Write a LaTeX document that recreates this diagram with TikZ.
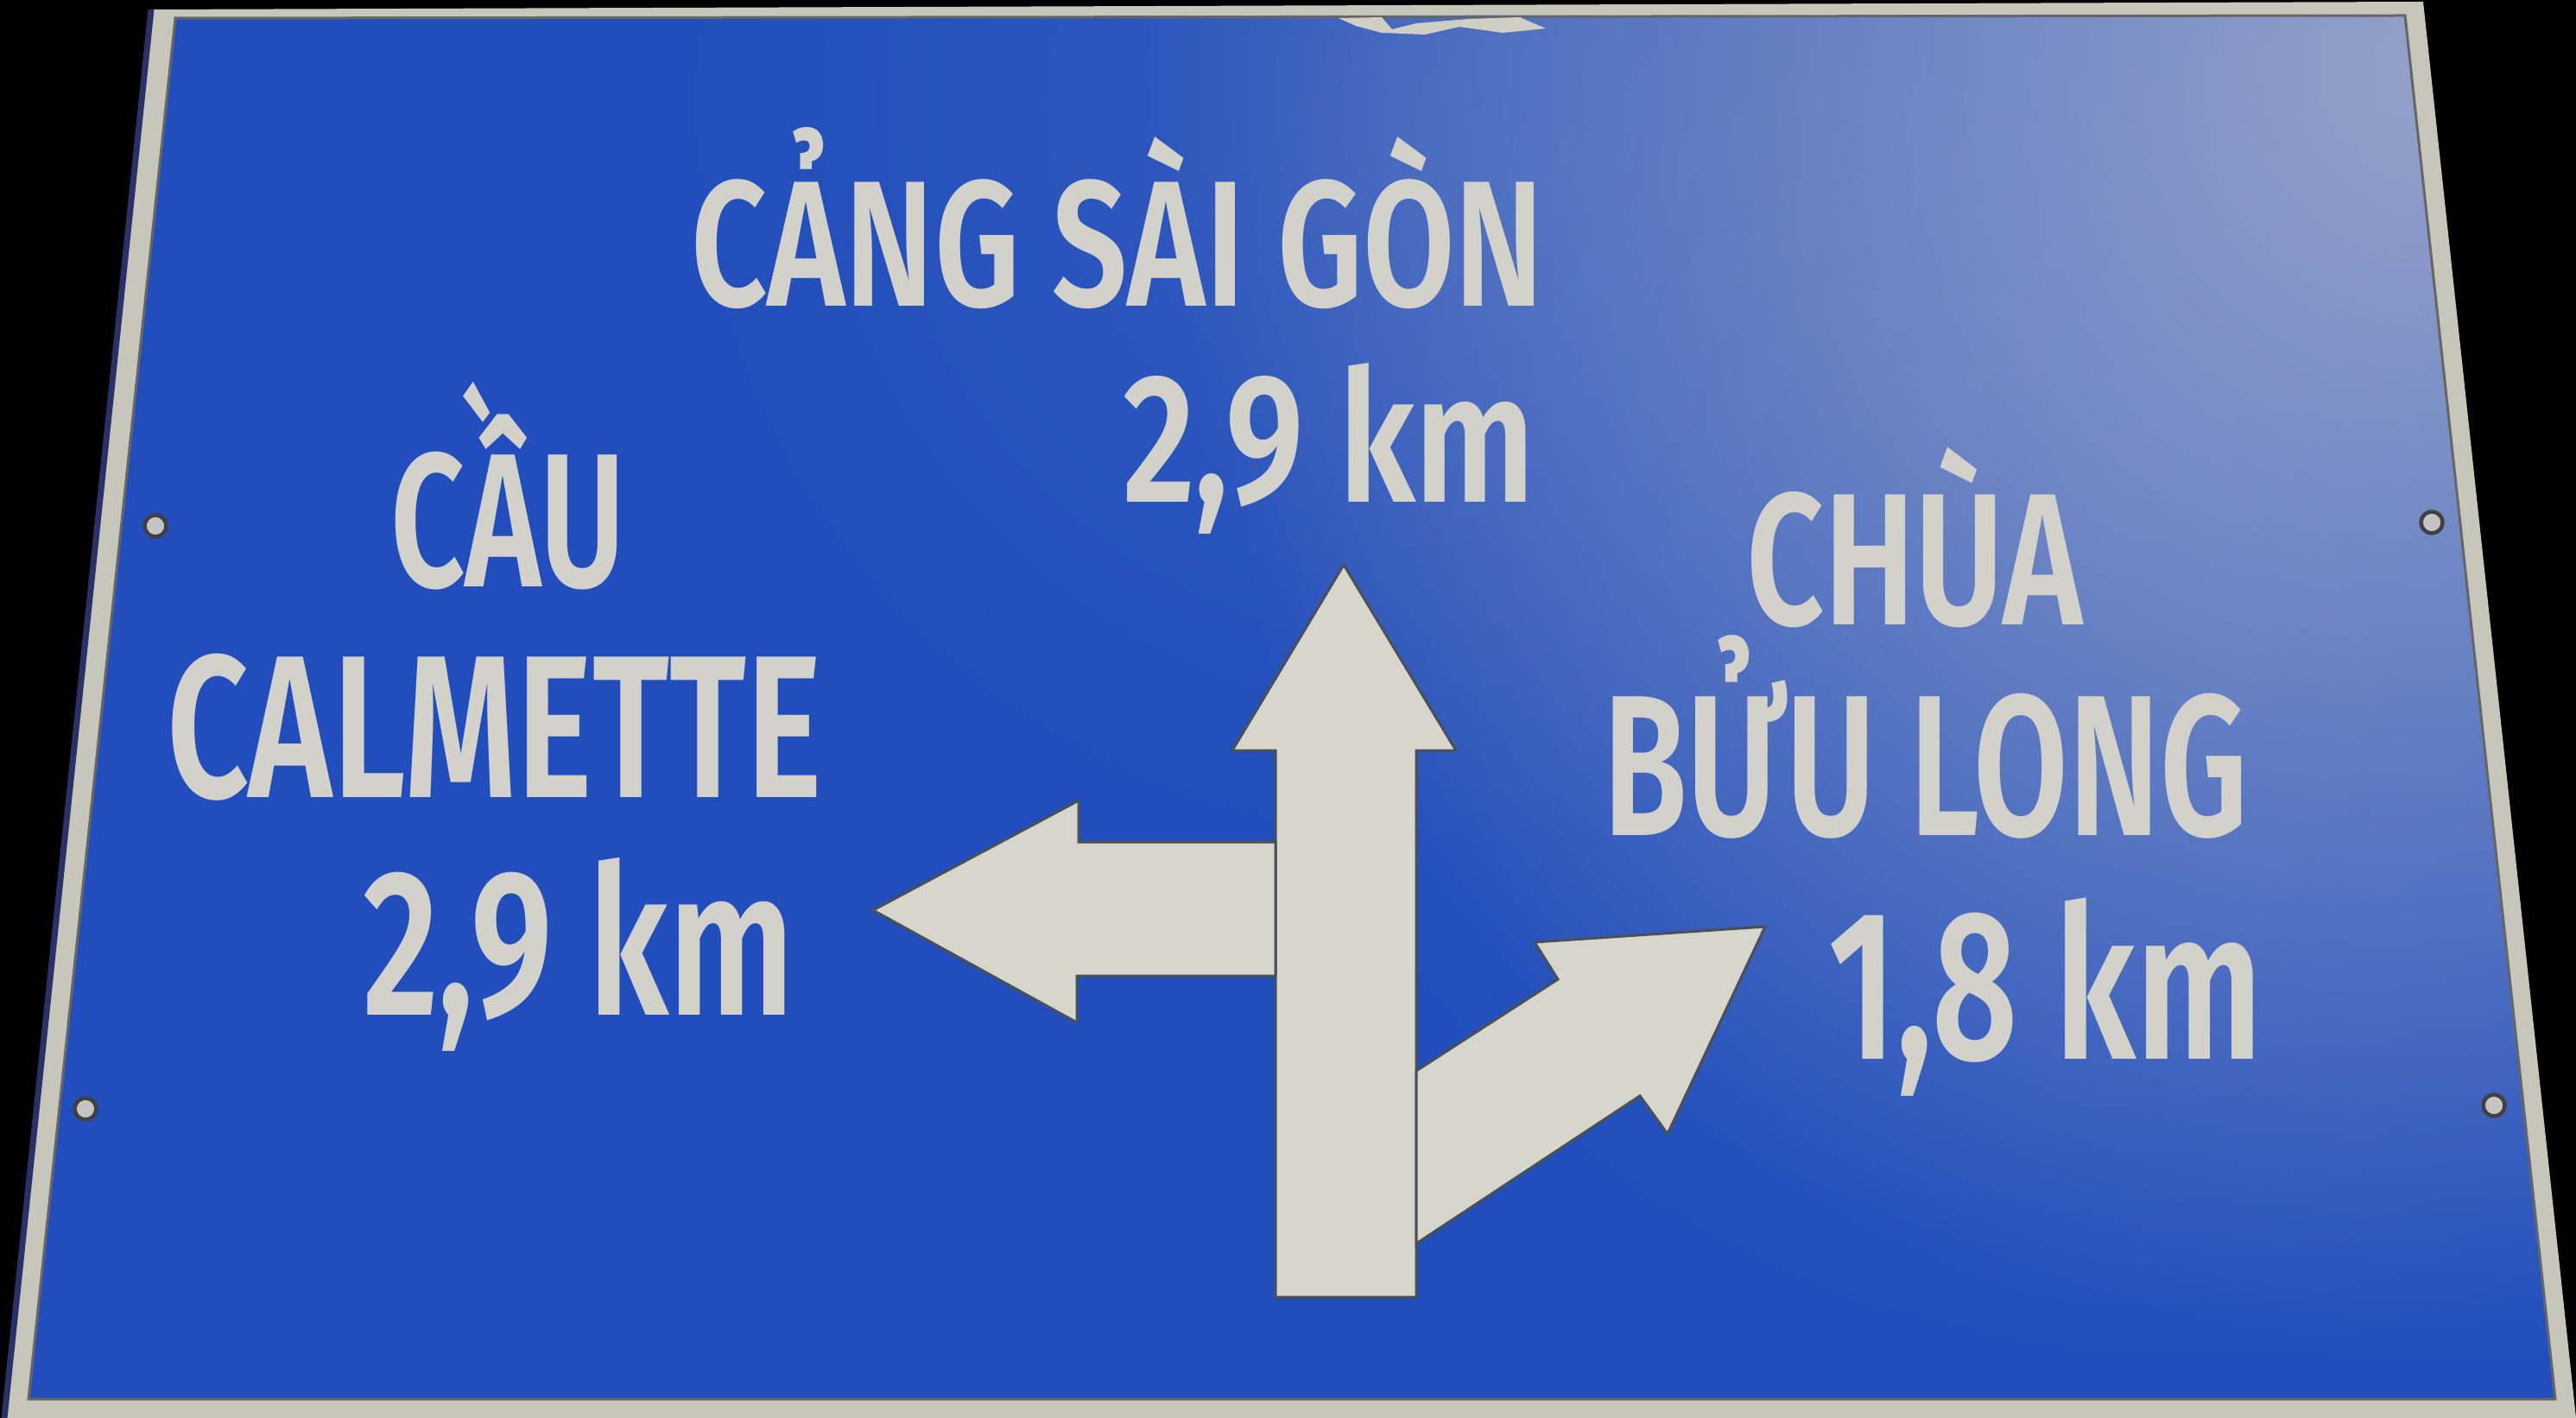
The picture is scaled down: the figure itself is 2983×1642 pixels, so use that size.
\documentclass[tikz,border=0pt]{standalone}
\usepackage{fontspec}
\usepackage{graphicx}
\usetikzlibrary{fadings}
\newfontfamily\signfont{Fira Sans}[BoldFont={Fira Sans SemiBold}]
\definecolor{signblue}{HTML}{214EBC}
\definecolor{bordergrey}{HTML}{C6C6BA}
\definecolor{edgenavy}{HTML}{2A3068}
\definecolor{glarecol}{HTML}{A0AACB}
\definecolor{lettercol}{HTML}{D2D2CA}
\definecolor{arrowfill}{HTML}{D6D6CC}
\definecolor{arrowedge}{HTML}{4A5058}
\definecolor{screwcol}{HTML}{C4C4C4}
\tikzfading[name=glarefade, inner color=transparent!0, outer color=transparent!100]
\newcommand\signline[3]{\resizebox{#1}{\height}{\fontsize{#2}{#2}\selectfont\signfont\bfseries #3}}
\tikzset{
  signtext/.style={text=lettercol, anchor=base west, inner sep=0pt, outer sep=0pt},
  arrowshape/.style={fill=arrowfill, draw=arrowedge, line width=0.3mm, line join=miter},
  screw/.style={circle, fill=screwcol, draw=black!75, line width=0.45mm, minimum size=2.5mm, inner sep=0pt}
}
\begin{document}
\begin{tikzpicture}[x=0.1mm,y=-0.1mm]
\useasboundingbox (0,0) rectangle (2983,1642);
\fill[black] (0,0) rectangle (2983,1642);
% sign plate
\coordinate (OTL) at (175,11);
\coordinate (OTR) at (2806,2);
\coordinate (OBR) at (2983,1642);
\coordinate (OBL) at (5,1642);
\coordinate (ITL) at (203,21);
\coordinate (ITR) at (2785,18);
\coordinate (IBR) at (2959,1620);
\coordinate (IBL) at (33,1620);
\fill[bordergrey] (OTL) -- (OTR) -- (OBR) -- (OBL) -- cycle;
\draw[edgenavy, line width=0.7mm] (OTL) -- (OBL);
\fill[signblue] (ITL) -- (ITR) -- (IBR) -- (IBL) -- cycle;
\begin{scope}
  \clip (ITL) -- (ITR) -- (IBR) -- (IBL) -- cycle;
  \fill[glarecol, path fading=glarefade, opacity=0.9] (2820,80) circle (150mm);
  \fill[glarecol, path fading=glarefade, opacity=0.25] (2500,500) circle (110mm);
  \fill[glarecol, path fading=glarefade, opacity=0.15] (1650,120) circle (90mm);
\end{scope}
\draw[black!60, line width=0.3mm] (ITL) -- (ITR) -- (IBR) -- (IBL) -- cycle;
% worn patch on the top edge
\fill[bordergrey!85!white] (1550,21) -- (1600,20) -- (1612,34) -- (1640,27) -- (1700,22) -- (1760,20) -- (1790,33) -- (1740,38) -- (1690,31) -- (1650,40) -- (1600,38) -- (1570,30) -- cycle;
% screws
\node[screw] (s1) at (180,609) {};
\node[screw] (s2) at (99,1284) {};
\node[screw] (s3) at (2816,605) {};
\node[screw] (s4) at (2888,1280) {};
% arrows
\path[arrowshape] (1556,654) -- (1686,869) -- (1640,869) -- (1640,1502) -- (1477,1502) -- (1477,869) -- (1427,869) -- cycle;
\path[arrowshape] (1011,1054) -- (1249,927) -- (1249,975) -- (1477,975) -- (1477,1130) -- (1247,1130) -- (1247,1184) -- cycle;
\path[arrowshape] (1640,1240) -- (1804,1134) -- (1777,1091) -- (2044,1073) -- (1931,1313) -- (1899,1269) -- (1640,1440) -- cycle;
% texts
\node[signtext] (cang) at (800,355) {\signline{98.8mm}{59pt}{CẢNG SÀI GÒN}};
\node[signtext] (cangkm) at (1300,582) {\signline{47.8mm}{60.5pt}{2,9 km}};
\node[signtext] (cau) at (452,680) {\signline{27.2mm}{62.8pt}{CẦU}};
\node[signtext] (calmette) at (193,923) {\signline{75.9mm}{66.9pt}{CALMETTE}};
\node[signtext] (caukm) at (420,1175) {\signline{50mm}{68.5pt}{2,9 km}};
\node[signtext] (chua) at (2022,724) {\signline{39mm}{61.9pt}{CHÙA}};
\node[signtext] (buulong) at (1856,967) {\signline{74.7mm}{66.1pt}{BỬU LONG}};
\node[signtext] (chuakm) at (2117,1226) {\signline{50.3mm}{70.2pt}{1,8 km}};
\end{tikzpicture}
\end{document}
